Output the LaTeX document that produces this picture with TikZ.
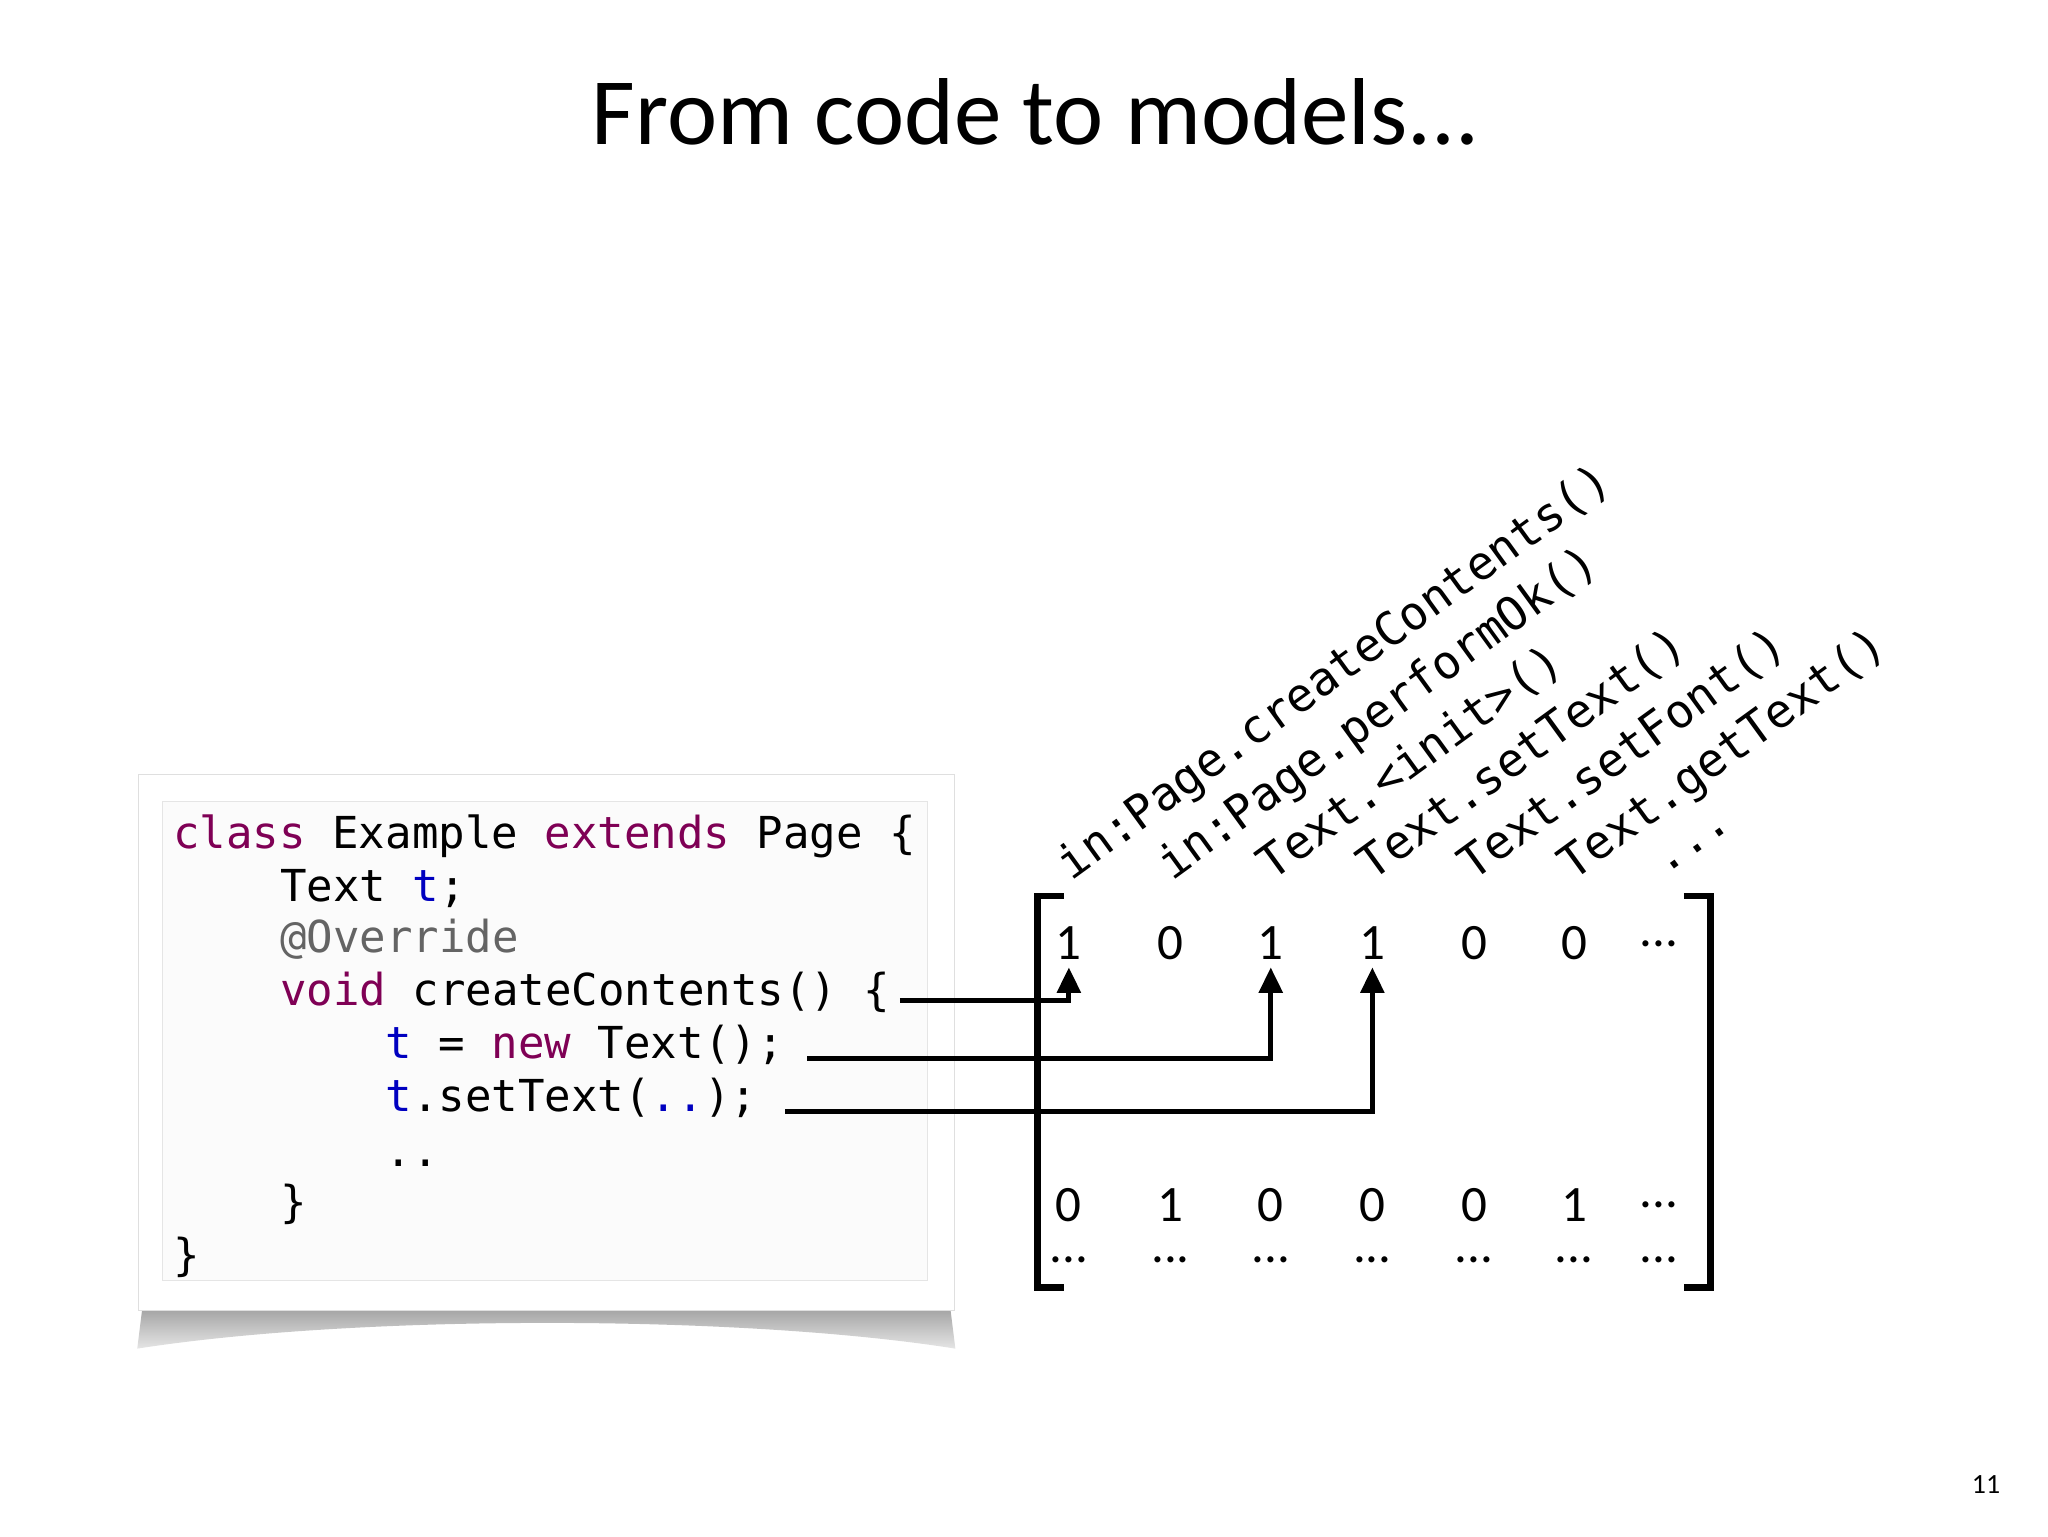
\documentclass[tikz,border=0pt]{standalone}
\usepackage{fontspec}
\setmainfont{Carlito}
\newfontfamily\mono{DejaVu Sans Mono}
\usetikzlibrary{arrows.meta}
\definecolor{kw}{HTML}{7F0055}
\definecolor{var}{HTML}{0000C0}
\definecolor{ann}{HTML}{646464}
\begin{document}
\begin{tikzpicture}[x=0.02cm,y=-0.02cm,
  code/.style={anchor=base west,inner sep=0pt,font=\mono\fontsize{19}{22}\selectfont},
  lab/.style={anchor=base west,inner sep=0pt,rotate=36,font=\mono\fontsize{20}{24}\selectfont},
  dig/.style={inner sep=0pt,font=\fontsize{22}{26}\selectfont},
  conn/.style={line width=2.2pt},
  arr/.style={conn,-{Triangle[length=11pt,width=10pt]}}]
\useasboundingbox (0,0) rectangle (1552,1164);
\node[font=\fontsize{41}{48}\selectfont] (title) at (785,85) {From code to models...};
\node[font=\fontsize{12}{14}\selectfont] (pg) at (1505,1125) {11};
% shadow
\shade[top color=gray!75,bottom color=gray!20] (108,990) -- (720,990) -- (724,1022) .. controls (560,996) and (270,996) .. (104,1022) -- cycle;
\fill[white,draw=gray!25] (105,587) rectangle (723,993);
\draw[gray!20,fill=gray!3] (123,607) rectangle (703,970);
% code
\node[code] (c1) at (131,643) {\textcolor{kw}{class} Example \textcolor{kw}{extends} Page \{};
\node[code] (c2) at (212,683) {Text \textcolor{var}{t};};
\node[code] (c3) at (212,722) {\textcolor{ann}{@Override}};
\node[code] (c4) at (212,762) {\textcolor{kw}{void} createContents() \{};
\node[code] (c5) at (292,802) {\textcolor{var}{t} = \textcolor{kw}{new} Text();};
\node[code] (c6) at (292,842) {\textcolor{var}{t}.setText(\textcolor{var}{..});};
\node[code] (c7) at (292,884) {..};
\node[code] (c8) at (212,923) {\}};
\node[code] (c9) at (131,963) {\}};
% matrix brackets
\draw[line width=3pt] (806,679) -- (786,679) -- (786,976) -- (806,976);
\draw[line width=3pt] (1276,679) -- (1296,679) -- (1296,976) -- (1276,976);
% digits
\foreach \n/\x/\a/\b in {1/810/1/0,2/887/0/1,3/963/1/0,4/1040/1/0,5/1117/0/0,6/1193/0/1}{
  \node[dig] (t\n) at (\x,715) {\a};
  \node[dig] (b\n) at (\x,913) {\b};
  \node[dig] (d\n) at (\x,955) {...};
}
\node[dig] (t7) at (1257,715) {...};
\node[dig] (b7) at (1257,913) {...};
\node[dig] (d7) at (1257,955) {...};
% labels
\node[lab] (l1) at (812,668) {in:Page.createContents()};
\node[lab] (l2) at (888,668) {in:Page.performOk()};
\node[lab] (l3) at (964,668) {Text.<init>()};
\node[lab] (l4) at (1040,668) {Text.setText()};
\node[lab] (l5) at (1116,668) {Text.setFont()};
\node[lab] (l6) at (1192,668) {Text.getText()};
\node[lab] (l7) at (1262,664) {...};
% connectors
\draw[arr] ([xshift=4pt,yshift=2pt]c4.base east) -| ([yshift=-3pt]t1.south);
\draw[arr] ([xshift=10pt,yshift=0pt]c5.base east) -| ([yshift=-3pt]t3.south);
\draw[arr] ([xshift=12pt,yshift=0pt]c6.base east) -| ([yshift=-3pt]t4.south);
\end{tikzpicture}
\end{document}
